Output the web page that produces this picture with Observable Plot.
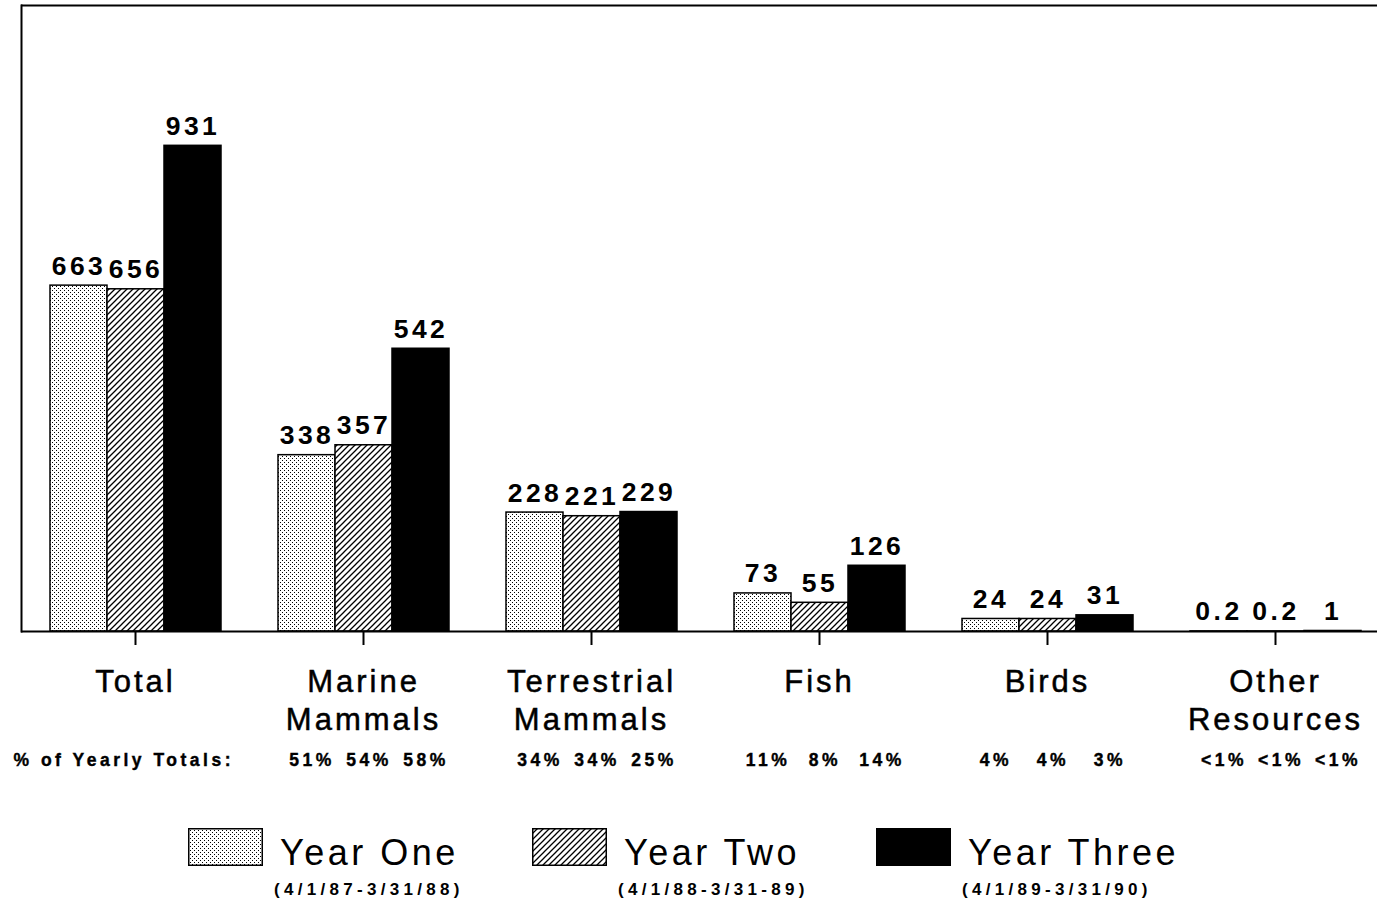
<!DOCTYPE html>
<html>
<head>
<meta charset="utf-8">
<script src="https://cdn.jsdelivr.net/npm/d3@7"></script>
<script src="https://cdn.jsdelivr.net/npm/@observablehq/plot@0.6"></script>
<style>
  html, body { margin: 0; padding: 0; background: white; overflow: hidden; height: 908px; }
  body { font-family: "Liberation Sans", Arial, Helvetica, sans-serif; color: black; width: 1377px; }
  #chart { width: 1377px; height: 790px; overflow: hidden; }
  #chart svg { display: block; max-width: none !important; }
  #legend { display: grid; grid-template-columns: repeat(3, 344px); padding-left: 188px; padding-top: 38px; }
  .item { display: grid; grid-template-columns: 75px auto; column-gap: 17px; align-items: start; justify-items: start; }
  .item svg { display: block; }
  .name { font-size: 36px; letter-spacing: 3.5px; line-height: 38px; height: 38px; position: relative; top: 6px; }
  .period { grid-column: 2; justify-self: start; font-size: 17px; font-weight: bold; letter-spacing: 4.3px; margin-top: 14px; margin-left: -6px; }
</style>
</head>
<body>
<!-- fill patterns shared by the bars and the legend swatches -->
<svg width="0" height="0" style="position:absolute">
  <defs>
    <pattern id="stipple" width="4" height="4" patternUnits="userSpaceOnUse">
      <rect width="4" height="4" fill="white"/>
      <rect x="0" y="0" width="1" height="1" fill="black"/>
      <rect x="2" y="2" width="1" height="1" fill="black"/>
    </pattern>
    <pattern id="hatch" width="6" height="6" patternUnits="userSpaceOnUse">
      <rect width="6" height="6" fill="white"/>
      <path d="M-1,1 L1,-1 M0,6 L6,0 M5,7 L7,5" stroke="black" stroke-width="1.3"/>
    </pattern>
  </defs>
</svg>
<div id="chart"></div>
<div id="legend"></div>
<script>
// Resource categories (line breaks are drawn as two-line axis labels)
const groups = ["Total", "Marine\nMammals", "Terrestrial\nMammals", "Fish", "Birds", "Other\nResources"];
const years = ["Year One", "Year Two", "Year Three"];
const periods = ["(4/1/87-3/31/88)", "(4/1/88-3/31-89)", "(4/1/89-3/31/90)"];

// Counts per category, one array per year
const yearOne = [663, 338, 228, 73, 24, 0.2];
const yearTwo = [656, 357, 221, 55, 24, 0.2];
const yearThree = [931, 542, 229, 126, 31, 1];

// Share of each year's total (none shown for the Total group)
const shareOne = [null, "51%", "34%", "11%", "4%", "<1%"];
const shareTwo = [null, "54%", "34%", "8%", "4%", "<1%"];
const shareThree = [null, "58%", "25%", "14%", "3%", "<1%"];
const shareHeading = "% of Yearly Totals:";

const yearFills = ["url(#stipple)", "url(#hatch)", "black"];

const series = [yearOne, yearTwo, yearThree];
const shares = [shareOne, shareTwo, shareThree];
const rows = groups.flatMap((g, i) => years.map((y, j) => ({
  group: g, year: y, value: series[j][i], share: shares[j][i]
})));

const chart = Plot.plot({
  width: 1390,
  height: 790,
  marginLeft: 19,
  marginRight: 0,
  marginTop: 5,
  marginBottom: 159,
  fx: {domain: groups, padding: 0, label: null, axis: null},
  x: {domain: years, paddingInner: 0, paddingOuter: 0.5, axis: null},
  y: {domain: [0, 1200], axis: null},
  color: {domain: years, range: yearFills},
  style: {fontFamily: "'Liberation Sans', Arial, Helvetica, sans-serif", color: "black", background: "white"},
  marks: [
    Plot.barY(rows, {fx: "group", x: "year", y: "value", fill: "year", stroke: "black", strokeWidth: 1.5}),
    Plot.ruleY([0], {strokeWidth: 2}),
    Plot.ruleY([1200], {strokeWidth: 2}),
    Plot.frame({anchor: "left", facetAnchor: "left", strokeWidth: 2}),
    Plot.axisFx({anchor: "bottom", tickSize: 14, tickPadding: 19, strokeWidth: 2, fontSize: 31, lineHeight: 1.23, label: null}),
    Plot.text(rows, {
      fx: "group", x: "year", y: "value", text: d => String(d.value),
      lineAnchor: "bottom", dy: -11, fontSize: 26.5, fontWeight: "bold", ariaDescription: "values"
    }),
    Plot.text(rows.filter(d => d.share), {
      fx: "group", x: "year", text: "share", frameAnchor: "bottom", dy: 134, dx: 5,
      fontSize: 17.5, fontWeight: "bold", ariaDescription: "shares"
    }),
    Plot.text([{group: groups[0], label: shareHeading}], {
      fx: "group", text: "label", frameAnchor: "bottom-left", textAnchor: "start",
      dx: -8, dy: 134, fontSize: 17.5, fontWeight: "bold", ariaDescription: "shares"
    })
  ]
});

// letter spacing for the spaced-out lettering
chart.querySelectorAll('[aria-description="values"]').forEach(g => g.style.letterSpacing = "3.5px");
chart.querySelectorAll('[aria-description="shares"]').forEach(g => {
  g.style.letterSpacing = "3.5px";
  g.setAttribute("stroke", "black");
  g.setAttribute("stroke-width", "0.4");
});
chart.querySelectorAll('g[aria-label="fx-axis tick label"]').forEach(g => {
  g.style.letterSpacing = "3px";
  g.setAttribute("stroke", "black");
  g.setAttribute("stroke-width", "0.5");
});

document.getElementById("chart").append(chart);

// Legend: patterned swatch, year name, and reporting period
const legend = d3.select("#legend");
years.forEach((y, i) => {
  const item = legend.append("div").attr("class", "item");
  const sw = item.append("svg").attr("width", 75).attr("height", 38);
  sw.append("rect").attr("x", 0.75).attr("y", 0.75).attr("width", 73.5).attr("height", 36.5)
    .attr("fill", yearFills[i]).attr("stroke", "black").attr("stroke-width", 1.5);
  item.append("div").attr("class", "name").text(y);
  item.append("div").attr("class", "period").text(periods[i]);
});
</script>
</body>
</html>
